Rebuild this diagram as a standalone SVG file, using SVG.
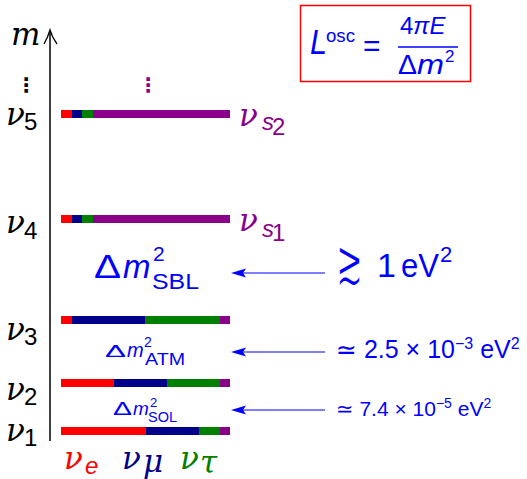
<svg xmlns="http://www.w3.org/2000/svg" width="527" height="479" viewBox="0 0 527 479">
<style>
.nu{font-family:"DejaVu Serif","Liberation Serif",serif;font-style:italic;font-size:31px;fill:#000}
.sub{font-family:"Liberation Sans","DejaVu Sans",sans-serif;font-style:normal;font-size:24px}
.bl{fill:#0000ff;font-family:"Liberation Sans","DejaVu Sans",sans-serif}
.it{font-style:italic}
.pu{fill:#8b008b}
.arr{stroke:#0000ff;stroke-width:1.2;fill:none}
.head{fill:#0000ff}
.dots{font-family:"DejaVu Sans",sans-serif;font-size:20px;font-weight:bold}
</style>
<rect width="527" height="479" fill="#fff"/>
<g id="axis">
<line x1="50" y1="441" x2="50" y2="31" stroke="#000" stroke-width="1.5"/>
<path d="M44,44 Q48,37 50,30 Q52,37 57,44" stroke="#000" stroke-width="1.3" fill="none"/>
<text x="11" y="45" class="nu" font-size="31">m</text>
<text x="16" y="92" class="dots">⋮</text>
</g>
<g id="nu5">
<rect x="61" y="110" width="11" height="8" fill="#ff0000"/><rect x="72" y="110" width="10" height="8" fill="#00008b"/><rect x="82" y="110" width="11" height="8" fill="#008000"/><rect x="93" y="110" width="137" height="8" fill="#8b008b"/>
<text x="6" y="125" class="nu">ν</text><text x="24" y="130" class="sub">5</text>
<text x="239" y="126" class="nu pu">ν</text><text x="262" y="130" class="sub it pu" font-size="21">s</text><text x="272" y="135" class="sub pu" font-size="17">2</text>
<text x="138" y="92" class="dots pu">⋮</text>
</g>
<g id="nu4">
<rect x="61" y="215" width="11" height="8" fill="#ff0000"/><rect x="72" y="215" width="10" height="8" fill="#00008b"/><rect x="82" y="215" width="11" height="8" fill="#008000"/><rect x="93" y="215" width="137" height="8" fill="#8b008b"/>
<text x="6" y="233" class="nu">ν</text><text x="24" y="239" class="sub">4</text>
<text x="239" y="231" class="nu pu">ν</text><text x="262" y="237" class="sub it pu" font-size="21">s</text><text x="272" y="241" class="sub pu" font-size="17">1</text>
</g>
<g id="nu3">
<rect x="61" y="316" width="11" height="8" fill="#ff0000"/><rect x="72" y="316" width="73" height="8" fill="#00008b"/><rect x="145" y="316" width="75" height="8" fill="#008000"/><rect x="220" y="316" width="10" height="8" fill="#8b008b"/>
<text x="6" y="340" class="nu">ν</text><text x="24" y="345" class="sub">3</text>
</g>
<g id="nu2">
<rect x="61" y="379" width="53" height="8" fill="#ff0000"/><rect x="114" y="379" width="53" height="8" fill="#00008b"/><rect x="167" y="379" width="53" height="8" fill="#008000"/><rect x="220" y="379" width="10" height="8" fill="#8b008b"/>
<text x="6" y="400" class="nu">ν</text><text x="24" y="405" class="sub">2</text>
</g>
<g id="nu1">
<rect x="61" y="427" width="85" height="8" fill="#ff0000"/><rect x="146" y="427" width="53" height="8" fill="#00008b"/><rect x="199" y="427" width="21" height="8" fill="#008000"/><rect x="220" y="427" width="10" height="8" fill="#8b008b"/>
<text x="6" y="441" class="nu">ν</text><text x="24" y="446" class="sub">1</text>
</g>
<g id="flavours">
<text x="64" y="469" class="nu" style="fill:#ff0000">ν</text><text x="85" y="474" class="sub it" font-size="22" style="fill:#ff0000">e</text>
<text x="122" y="469" class="nu" style="fill:#00008b">ν</text><text x="143" y="472" class="nu" font-size="21" style="fill:#00008b">μ</text>
<text x="180" y="469" class="nu" style="fill:#008000">ν</text><text x="200" y="473" class="nu" font-size="21" style="fill:#008000">τ</text>
</g>
<g id="formula">
<rect x="300.5" y="5.5" width="170" height="76" fill="#fff" stroke="#ff0000" stroke-width="1.5"/>
<text x="310" y="54" class="bl it" font-size="35" textLength="17" lengthAdjust="spacingAndGlyphs">L</text>
<text x="326" y="42" class="bl" font-size="19" textLength="29" lengthAdjust="spacingAndGlyphs">osc</text>
<text x="363" y="56" class="bl" font-size="30">=</text>
<text x="400" y="34" class="bl" font-size="24">4<tspan class="it">πE</tspan></text>
<line x1="398" y1="47" x2="458" y2="47" stroke="#0000ff" stroke-width="1.3"/>
<text x="398" y="74" class="bl" font-size="27" textLength="19" lengthAdjust="spacingAndGlyphs">Δ</text>
<text x="417" y="74" class="bl it" font-size="27" textLength="27" lengthAdjust="spacingAndGlyphs">m</text>
<text x="445" y="62" class="bl" font-size="17">2</text>
</g>
<g id="dm-sbl">
<text x="94" y="278" class="bl" font-size="33" textLength="27" lengthAdjust="spacingAndGlyphs">Δ</text>
<text x="123" y="278" class="bl it" font-size="33">m</text>
<text x="153" y="261" class="bl" font-size="21">2</text>
<text x="152" y="289" class="bl" font-size="22" textLength="47" lengthAdjust="spacingAndGlyphs">SBL</text>
</g>
<g id="dm-atm">
<text x="105" y="357" class="bl" font-size="17" textLength="21" lengthAdjust="spacingAndGlyphs">Δ</text>
<text x="127" y="357" class="bl it" font-size="20">m</text>
<text x="144" y="347" class="bl" font-size="14">2</text>
<text x="145" y="365" class="bl" font-size="16" textLength="40" lengthAdjust="spacingAndGlyphs">ATM</text>
</g>
<g id="dm-sol">
<text x="113" y="415" class="bl" font-size="18" textLength="19" lengthAdjust="spacingAndGlyphs">Δ</text>
<text x="133" y="415" class="bl it" font-size="19">m</text>
<text x="150" y="407" class="bl" font-size="13">2</text>
<text x="148" y="422" class="bl" font-size="15" textLength="29" lengthAdjust="spacingAndGlyphs">SOL</text>
</g>
<g id="values">
<text transform="translate(336,283.5) scale(1,1.6)" font-family="DejaVu Sans,sans-serif" fill="#0000ff" stroke="#fff" stroke-width="0.9" font-size="40" textLength="27" lengthAdjust="spacingAndGlyphs">≳</text>
<text x="377" y="277" class="bl" font-size="34">1</text>
<text x="401" y="277" class="bl" font-size="34" textLength="38" lengthAdjust="spacingAndGlyphs">eV</text>
<text x="440" y="262" class="bl" font-size="22">2</text>
<text x="336" y="358" class="bl" font-size="25">≃ 2.5 × 10<tspan font-size="16" dy="-9">−3</tspan><tspan dy="9"> eV</tspan><tspan font-size="16" dy="-9">2</tspan></text>
<text x="336" y="416" class="bl" font-size="21">≃ 7.4 × 10<tspan font-size="14" dy="-8">−5</tspan><tspan dy="8"> eV</tspan><tspan font-size="14" dy="-8">2</tspan></text>
</g>
<g id="connectors">
<line class="arr" x1="325" y1="273" x2="240" y2="273"/><polygon class="head" points="231,273 246,268.5 243,273 246,277.5"/>
<line class="arr" x1="325" y1="352" x2="240" y2="352"/><polygon class="head" points="231,352 246,347.5 243,352 246,356.5"/>
<line class="arr" x1="325" y1="410" x2="240" y2="410"/><polygon class="head" points="231,410 246,405.5 243,410 246,414.5"/>
</g>
</svg>
